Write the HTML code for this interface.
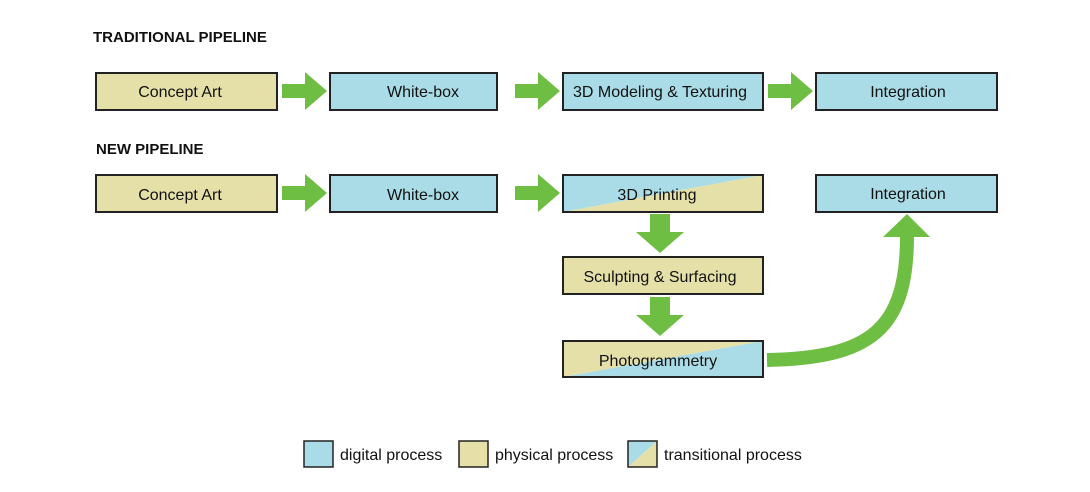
<!DOCTYPE html>
<html><head><style>
body{margin:0;background:#fff;}
svg text{font-family:"Liberation Sans",sans-serif;}
</style></head><body>
<svg width="1090" height="487" xmlns="http://www.w3.org/2000/svg">
<text x="93" y="42" font-size="15" font-weight="bold" fill="#111">TRADITIONAL PIPELINE</text>
<text x="96" y="154" font-size="15" font-weight="bold" fill="#111">NEW PIPELINE</text>
<g stroke="#222" stroke-width="2">
<rect x="96" y="73" width="181" height="37" fill="#e4e0a8"/>
<rect x="330" y="73" width="167" height="37" fill="#a9dce6"/>
<rect x="563" y="73" width="200" height="37" fill="#a9dce6"/>
<rect x="816" y="73" width="181" height="37" fill="#a9dce6"/>
<rect x="96" y="175" width="181" height="37" fill="#e4e0a8"/>
<rect x="330" y="175" width="167" height="37" fill="#a9dce6"/>
<rect x="816" y="175" width="181" height="37" fill="#a9dce6"/>
<rect x="563" y="257" width="200" height="37" fill="#e4e0a8"/>
</g>
<polygon points="563,175 763,175 563,212" fill="#a9dce6"/>
<polygon points="763,175 763,212 563,212" fill="#e4e0a8"/>
<rect x="563" y="175" width="200" height="37" fill="none" stroke="#222" stroke-width="2"/>
<polygon points="563,341 763,341 563,377" fill="#e4e0a8"/>
<polygon points="763,341 763,377 563,377" fill="#a9dce6"/>
<rect x="563" y="341" width="200" height="36" fill="none" stroke="#222" stroke-width="2"/>
<g font-size="16" fill="#111" text-anchor="middle">
<text x="180" y="97">Concept Art</text>
<text x="423" y="97">White-box</text>
<text x="660" y="97">3D Modeling &amp; Texturing</text>
<text x="908" y="97">Integration</text>
<text x="180" y="200">Concept Art</text>
<text x="423" y="200">White-box</text>
<text x="657" y="200">3D Printing</text>
<text x="908" y="199">Integration</text>
<text x="660" y="282">Sculpting &amp; Surfacing</text>
<text x="658" y="366">Photogrammetry</text>
</g>
<g fill="#6fbe44">
<polygon points="282,84 305,84 305,72 327,91 305,110 305,98 282,98"/>
<polygon points="515,84 538,84 538,72 560,91 538,110 538,98 515,98"/>
<polygon points="768,84 791,84 791,72 813,91 791,110 791,98 768,98"/>
<polygon points="282,186 305,186 305,174 327,193 305,212 305,200 282,200"/>
<polygon points="515,186 538,186 538,174 560,193 538,212 538,200 515,200"/>
<polygon points="650,214 670,214 670,232 684,232 660,253 636,232 650,232"/>
<polygon points="650,297 670,297 670,315 684,315 660,336 636,315 650,315"/>
<polygon points="883,237 907,214 930,237"/>
</g>
<path d="M767 360 C 870 358, 907 330, 907 236" fill="none" stroke="#6fbe44" stroke-width="14"/>
<rect x="304" y="441" width="29" height="26" fill="#a9dce6" stroke="#222" stroke-width="1.5"/>
<text x="340" y="460" font-size="16" fill="#111">digital process</text>
<rect x="459" y="441" width="29" height="26" fill="#e4e0a8" stroke="#222" stroke-width="1.5"/>
<text x="495" y="460" font-size="16" fill="#111">physical process</text>
<polygon points="628,441 657,441 628,467" fill="#a9dce6"/>
<polygon points="657,441 657,467 628,467" fill="#e4e0a8"/>
<rect x="628" y="441" width="29" height="26" fill="none" stroke="#222" stroke-width="1.5"/>
<text x="664" y="460" font-size="16" fill="#111">transitional process</text>
</svg>
</body></html>
